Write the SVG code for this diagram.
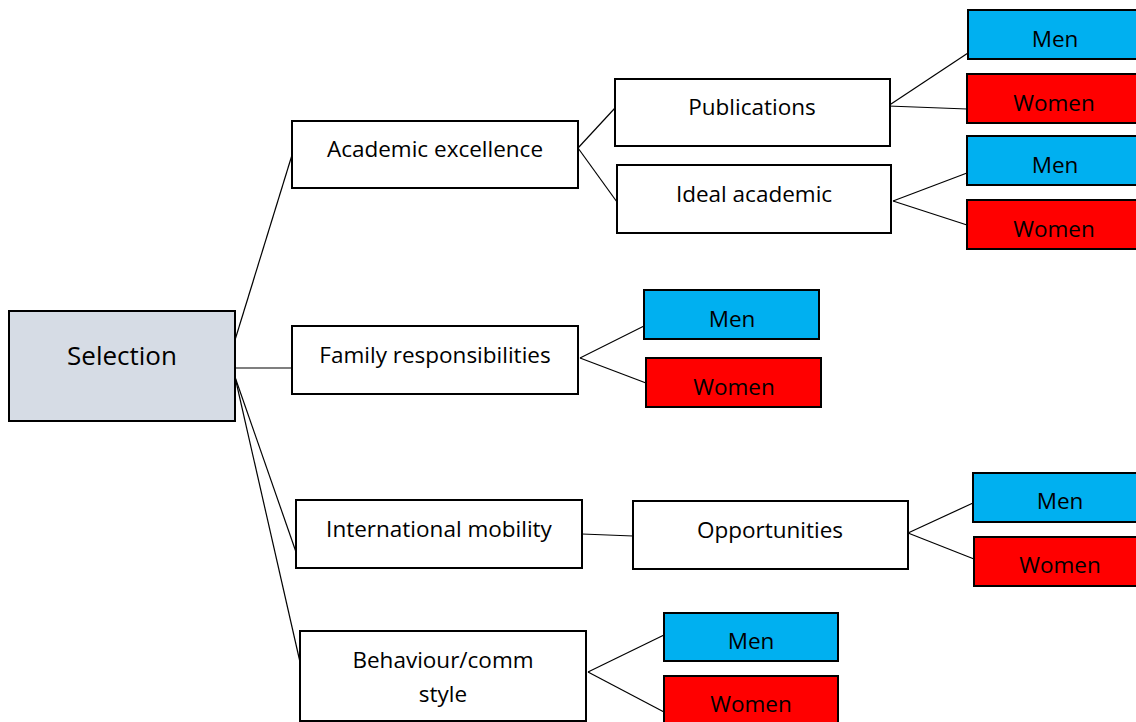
<svg xmlns="http://www.w3.org/2000/svg" width="1136" height="722" viewBox="0 0 1136 722">
<style>
.box{fill:#fff;stroke:#000;stroke-width:2}
.root{fill:#d6dce5;stroke:#000;stroke-width:2}
.men{fill:#00b0f0;stroke:#000;stroke-width:2}
.women{fill:#ff0000;stroke:#000;stroke-width:2}
text{font-family:"Open Sans","Liberation Sans",Arial,sans-serif;font-size:22.5px;fill:#000;text-anchor:middle;dominant-baseline:central}
.conn line{stroke:#000;stroke-width:1.2}
</style>
<rect width="1136" height="722" fill="#fff"/>
<g class="conn">
<line x1="235" y1="340" x2="292" y2="155"/>
<line x1="235" y1="368" x2="292" y2="368"/>
<line x1="235" y1="377" x2="296" y2="552"/>
<line x1="235" y1="377" x2="300" y2="662"/>
<line x1="578" y1="148" x2="615" y2="108"/>
<line x1="578" y1="148" x2="617" y2="202"/>
<line x1="888" y1="106" x2="968" y2="53"/>
<line x1="888" y1="106" x2="967" y2="109"/>
<line x1="893" y1="201" x2="967" y2="173"/>
<line x1="893" y1="201" x2="967" y2="225"/>
<line x1="580" y1="358" x2="644" y2="326"/>
<line x1="580" y1="358" x2="646" y2="383"/>
<line x1="582" y1="534" x2="633" y2="536"/>
<line x1="908" y1="533" x2="973" y2="503"/>
<line x1="908" y1="533" x2="974" y2="559"/>
<line x1="588" y1="672" x2="664" y2="635"/>
<line x1="588" y1="672" x2="664" y2="712"/>
</g>
<g id="selection"><rect class="root" x="9" y="311" width="226" height="110"/><text x="122" y="355" style="font-size:26px">Selection</text></g>
<g id="academic"><rect class="box" x="292" y="121" width="286" height="67"/><text x="435" y="148">Academic excellence</text></g>
<g id="family"><rect class="box" x="292" y="326" width="286" height="68"/><text x="435" y="354">Family responsibilities</text></g>
<g id="international"><rect class="box" x="296" y="500" width="286" height="68"/><text x="439" y="528">International mobility</text></g>
<g id="behaviour"><rect class="box" x="300" y="631" width="286" height="90"/><text x="443" y="659">Behaviour/comm</text><text x="443" y="693">style</text></g>
<g id="publications"><rect class="box" x="615" y="79" width="275" height="67"/><text x="752" y="106">Publications</text></g>
<g id="ideal"><rect class="box" x="617" y="165" width="274" height="68"/><text x="754" y="193">Ideal academic</text></g>
<g id="opportunities"><rect class="box" x="633" y="501" width="275" height="68"/><text x="770" y="529">Opportunities</text></g>
<g id="pub-men"><rect class="men" x="968" y="10" width="172" height="49"/><text x="1055" y="38">Men</text></g>
<g id="pub-women"><rect class="women" x="967" y="74" width="173" height="49"/><text x="1054" y="102">Women</text></g>
<g id="ideal-men"><rect class="men" x="967" y="136" width="173" height="49"/><text x="1055" y="164">Men</text></g>
<g id="ideal-women"><rect class="women" x="967" y="200" width="173" height="49"/><text x="1054" y="228">Women</text></g>
<g id="family-men"><rect class="men" x="644" y="290" width="175" height="49"/><text x="732" y="318">Men</text></g>
<g id="family-women"><rect class="women" x="646" y="358" width="175" height="49"/><text x="734" y="386">Women</text></g>
<g id="opp-men"><rect class="men" x="973" y="473" width="167" height="49"/><text x="1060" y="500">Men</text></g>
<g id="opp-women"><rect class="women" x="974" y="537" width="166" height="49"/><text x="1060" y="564">Women</text></g>
<g id="beh-men"><rect class="men" x="664" y="613" width="174" height="48"/><text x="751" y="640">Men</text></g>
<g id="beh-women"><rect class="women" x="664" y="676" width="174" height="48"/><text x="751" y="703">Women</text></g>
</svg>
